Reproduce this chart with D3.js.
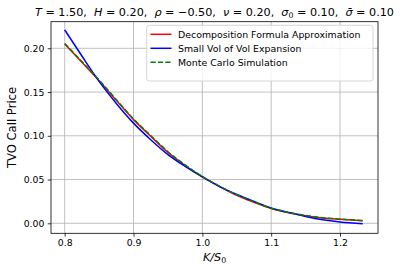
<!DOCTYPE html>
<html>
<head>
<meta charset="utf-8">
<script src="https://cdn.jsdelivr.net/npm/d3@7"></script>
<style>
  body { margin: 0; background: #fff; }
  svg { font-family: "DejaVu Sans", sans-serif; }
  text { white-space: pre; }
</style>
</head>
<body>
<div class="chart"></div>
<script>
var strikes = [0.80, 0.825, 0.85, 0.875, 0.90, 0.925, 0.95, 0.975, 1.00, 1.025, 1.05, 1.075, 1.10, 1.125, 1.15, 1.175, 1.20, 1.233];
var decomp = [0.205, 0.184, 0.163, 0.1405, 0.1185, 0.0995, 0.081, 0.066, 0.053, 0.042, 0.032, 0.024, 0.0168, 0.012, 0.0085, 0.006, 0.0045, 0.0028];
var smallVol = [0.221, 0.1912, 0.1622, 0.137, 0.1145, 0.0955, 0.0785, 0.065, 0.053, 0.042, 0.033, 0.025, 0.0175, 0.0125, 0.0078, 0.004, 0.0015, -0.0005];
var monteCarlo = [0.2055, 0.1848, 0.1638, 0.1413, 0.1193, 0.1003, 0.0818, 0.0668, 0.0535, 0.0425, 0.0325, 0.0245, 0.0172, 0.0124, 0.0089, 0.0064, 0.0048, 0.0031];
var xTicks = [0.8, 0.9, 1.0, 1.1, 1.2];
var yTicks = [0.00, 0.05, 0.10, 0.15, 0.20];
var seriesNames = ["Decomposition Formula Approximation", "Small Vol of Vol Expansion", "Monte Carlo Simulation"];

var width = 400, height = 273;
var axLeft = 51, axRight = 378, axTop = 21.7, axBottom = 233.3;

var svg = d3.select(".chart").append("svg").attr("width", width).attr("height", height);

var x = d3.scaleLinear().domain([0.7801, 1.2552]).range([axLeft, axRight]);
var y = d3.scaleLinear().domain([-0.01143, 0.2304]).range([axBottom, axTop]);

// grid
svg.append("g").selectAll("line").data(xTicks).enter().append("line")
  .attr("x1", function(d) { return x(d); }).attr("x2", function(d) { return x(d); })
  .attr("y1", axTop).attr("y2", axBottom)
  .style("stroke", "#b0b0b0").style("stroke-width", 0.8);
svg.append("g").selectAll("line").data(yTicks).enter().append("line")
  .attr("y1", function(d) { return y(d); }).attr("y2", function(d) { return y(d); })
  .attr("x1", axLeft).attr("x2", axRight)
  .style("stroke", "#b0b0b0").style("stroke-width", 0.8);

// axes
var xAxis = svg.append("g").attr("transform", "translate(0," + axBottom + ")")
  .call(d3.axisBottom(x).tickValues(xTicks).tickFormat(d3.format(".1f")).tickSizeOuter(0).tickSize(3.3).tickPadding(3.3));
var yAxis = svg.append("g").attr("transform", "translate(" + axLeft + ",0)")
  .call(d3.axisLeft(y).tickValues(yTicks).tickFormat(d3.format(".2f")).tickSizeOuter(0).tickSize(3.3).tickPadding(3.3));
[xAxis, yAxis].forEach(function(a) {
  a.select(".domain").remove();
  a.selectAll("line").style("stroke", "#000").style("stroke-width", 0.8);
  a.selectAll("text").style("font-family", "DejaVu Sans").style("font-size", "9.3px").style("fill", "#000");
});

// lines
var line = d3.line().x(function(d) { return x(d[0]); }).y(function(d) { return y(d[1]); }).curve(d3.curveMonotoneX);
svg.append("clipPath").attr("id", "clip").append("rect")
  .attr("x", axLeft).attr("y", axTop).attr("width", axRight - axLeft).attr("height", axBottom - axTop);
var plot = svg.append("g").attr("clip-path", "url(#clip)");
plot.append("path").datum(d3.zip(strikes, decomp)).attr("d", line)
  .style("fill", "none").style("stroke", "red").style("stroke-width", 1.5);
plot.append("path").datum(d3.zip(strikes, smallVol)).attr("d", line)
  .style("fill", "none").style("stroke", "blue").style("stroke-width", 1.5);
plot.append("path").datum(d3.zip(strikes, monteCarlo)).attr("d", line)
  .style("fill", "none").style("stroke", "green").style("stroke-width", 1.5).style("stroke-dasharray", "5.2,2.2");

// frame
svg.append("rect").attr("x", axLeft).attr("y", axTop).attr("width", axRight - axLeft).attr("height", axBottom - axTop)
  .style("fill", "none").style("stroke", "#000").style("stroke-width", 0.8);

// legend
var legend = svg.append("g");
legend.append("rect").attr("x", 146.7).attr("y", 25.3).attr("width", 226.3).attr("height", 55.7).attr("rx", 2.5)
  .style("fill", "#fff").style("fill-opacity", 0.8).style("stroke", "#cccccc").style("stroke-width", 0.8);
var legendColors = ["red", "blue", "green"];
var legendDash = ["none", "none", "5.2,2.2"];
seriesNames.forEach(function(name, i) {
  var ly = 34.3 + i * 14;
  legend.append("line").attr("x1", 150.5).attr("x2", 171.5).attr("y1", ly).attr("y2", ly)
    .style("stroke", legendColors[i]).style("stroke-width", 1.5).style("stroke-dasharray", legendDash[i]);
  legend.append("text").attr("x", 178).attr("y", ly + 3.4).text(name)
    .style("font-size", "9.4px").style("fill", "#000");
});

// title
var titleParts = [
  ["T", "i"], [" = 1.50,  ", "n"], ["H", "i"], [" = 0.20,  ", "n"], ["\u03c1", "i"], [" = \u22120.50,  ", "n"],
  ["\u03bd", "i"], [" = 0.20,  ", "n"], ["\u03c3", "i"], ["0", "s"], [" = 0.10,  ", "r"], ["\u03c3\u0304", "i"], [" = 0.10", "n"]
];
var title = svg.append("text").attr("x", 214.5).attr("y", 16).attr("text-anchor", "middle")
  .style("font-size", "11.2px").style("fill", "#000");
titleParts.forEach(function(p) {
  var t = title.append("tspan").text(p[0]);
  if (p[1] === "i") t.style("font-style", "italic");
  if (p[1] === "s") t.attr("dy", 2).style("font-size", "7.8px");
  if (p[1] === "r") t.attr("dy", -2);
});

// axis labels
var xl = svg.append("text").attr("x", 214.5).attr("y", 261).attr("text-anchor", "middle")
  .style("font-size", "11.2px").style("fill", "#000");
xl.append("tspan").text("K/S").style("font-style", "italic");
xl.append("tspan").text("0").attr("dy", 2).style("font-size", "7.8px");

svg.append("text").attr("transform", "translate(16," + ((axTop + axBottom) / 2) + ") rotate(-90)")
  .attr("text-anchor", "middle").text("TVO Call Price")
  .style("font-size", "11.6px").style("fill", "#000");
</script>
</body>
</html>
